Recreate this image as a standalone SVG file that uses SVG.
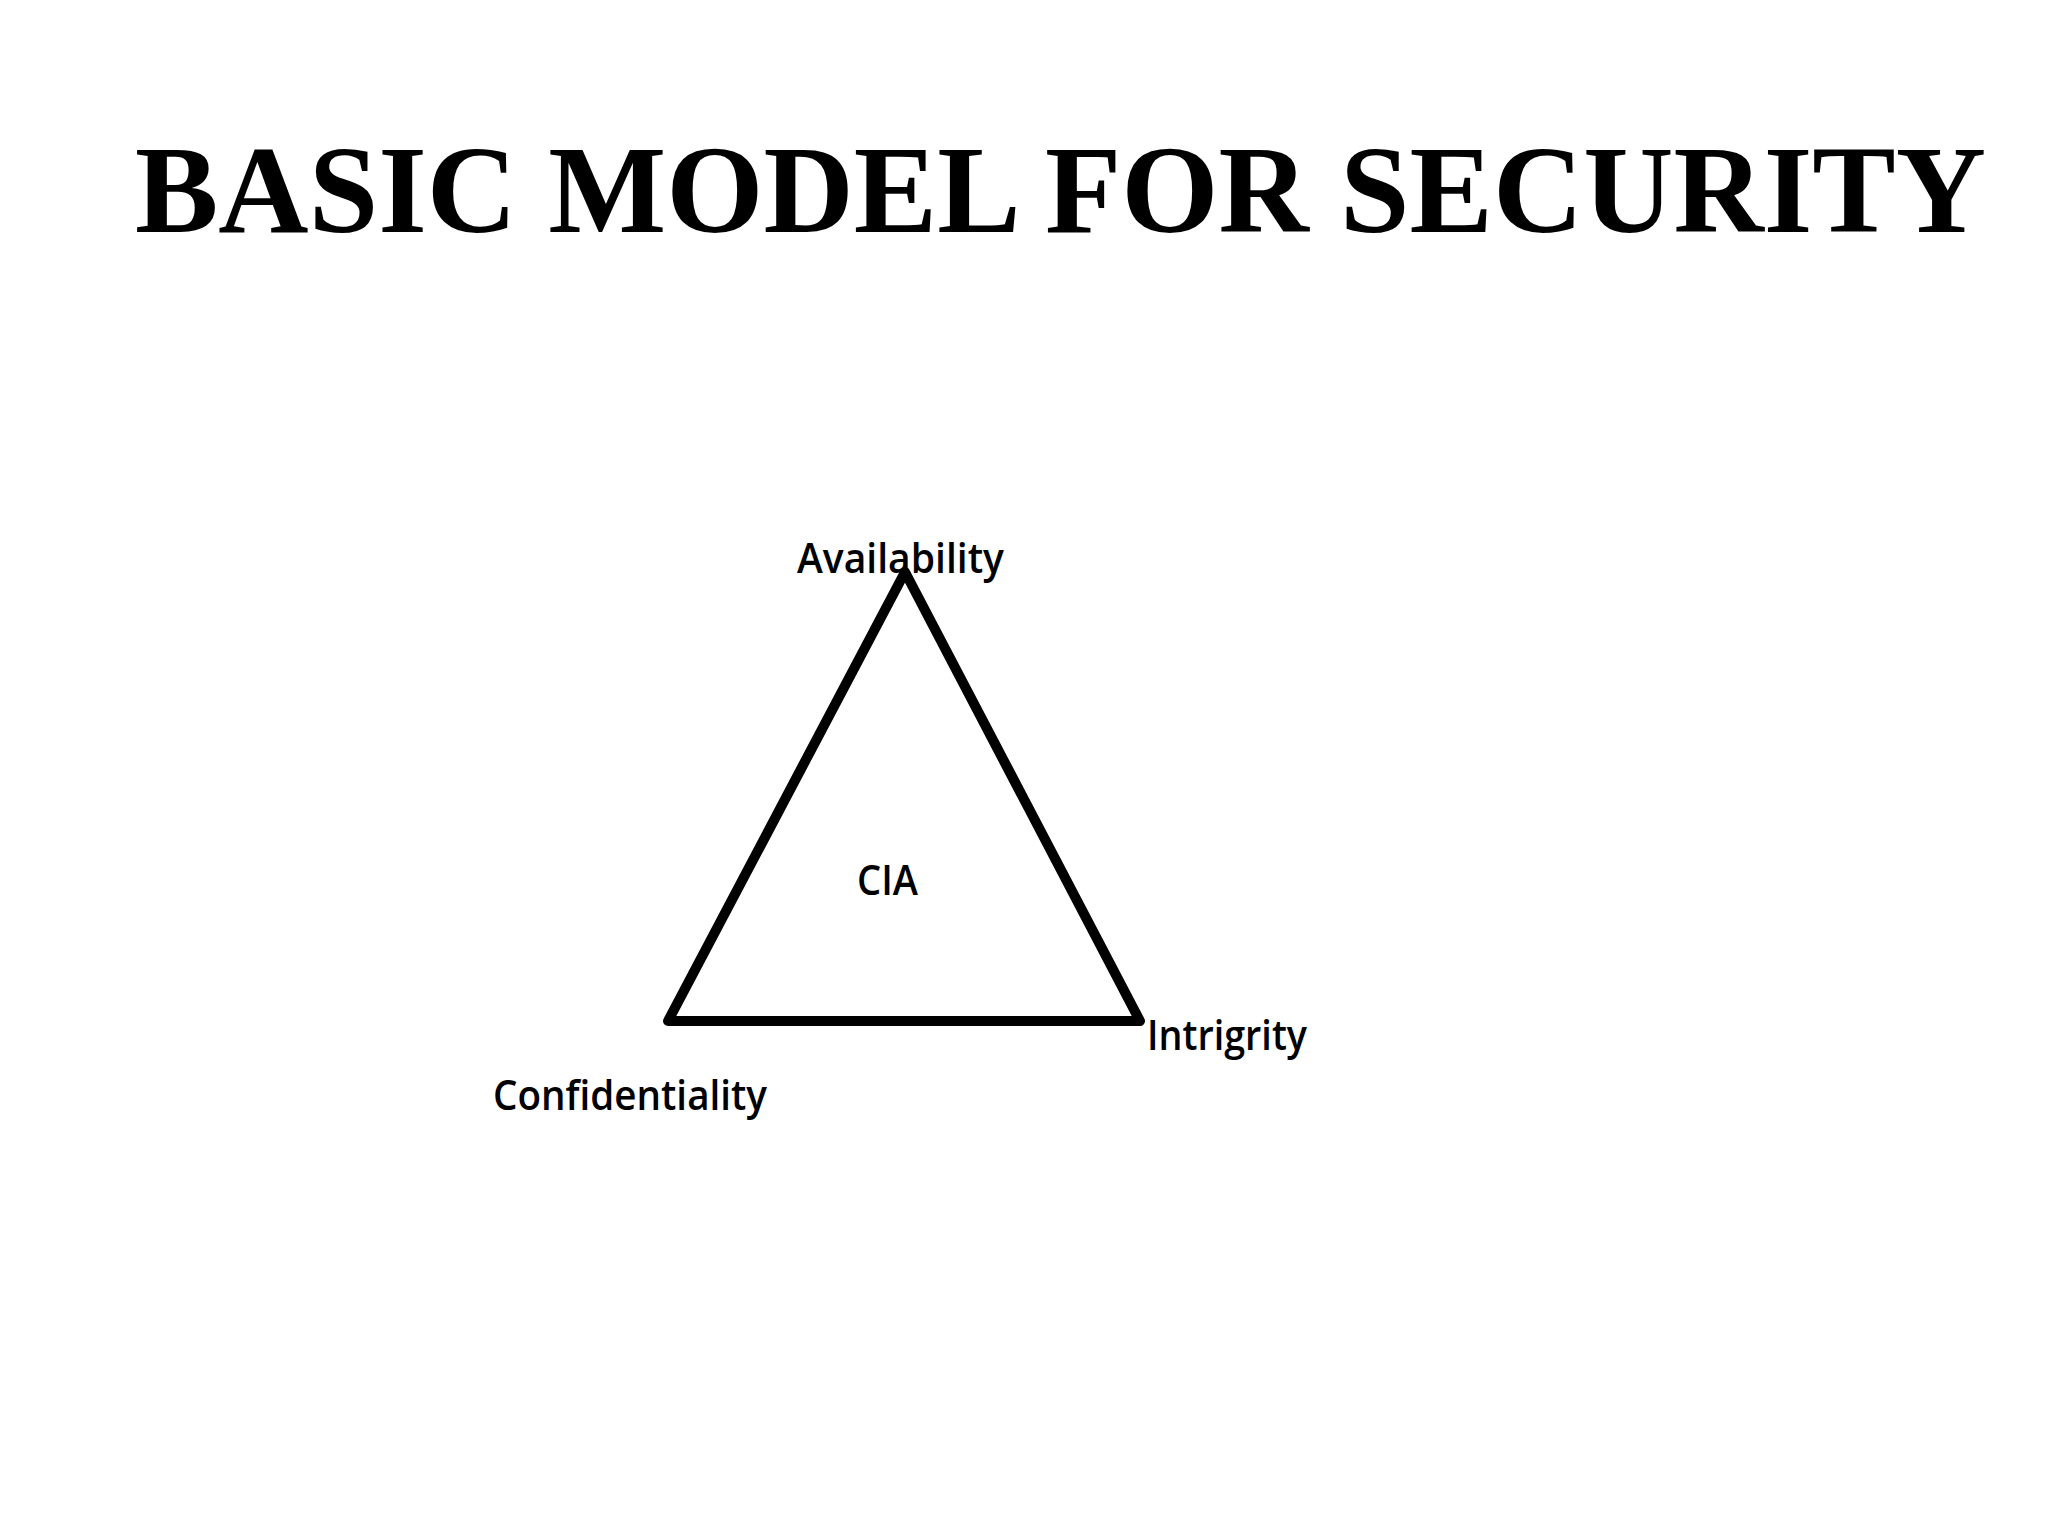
<svg xmlns="http://www.w3.org/2000/svg" width="2048" height="1536" viewBox="0 0 2048 1536">
<style>
.title{font-family:"Liberation Serif","Times New Roman",serif;font-weight:bold;font-size:125px;fill:#000}
.lbl{font-family:"Open Sans","Noto Sans",sans-serif;font-weight:600;font-size:41px;fill:#000}
.edge{fill:none;stroke:#000;stroke-width:10;stroke-linejoin:round;stroke-linecap:round}
</style>
<rect width="2048" height="1536" fill="#fff"/>
<g id="title"><text class="title" x="135" y="232">BASIC MODEL FOR SECURITY</text></g>
<g id="connectors">
<path class="edge" d="M905,572 L1140,1021 L668,1021 Z"/>
</g>
<g id="availability"><text class="lbl" x="797" y="573" textLength="207" lengthAdjust="spacingAndGlyphs">Availability</text></g>
<g id="cia"><text class="lbl" x="857" y="895" textLength="61" lengthAdjust="spacingAndGlyphs">CIA</text></g>
<g id="confidentiality"><text class="lbl" x="493" y="1110" textLength="274" lengthAdjust="spacingAndGlyphs">Confidentiality</text></g>
<g id="intrigrity"><text class="lbl" x="1147" y="1050" textLength="160" lengthAdjust="spacingAndGlyphs">Intrigrity</text></g>
</svg>
